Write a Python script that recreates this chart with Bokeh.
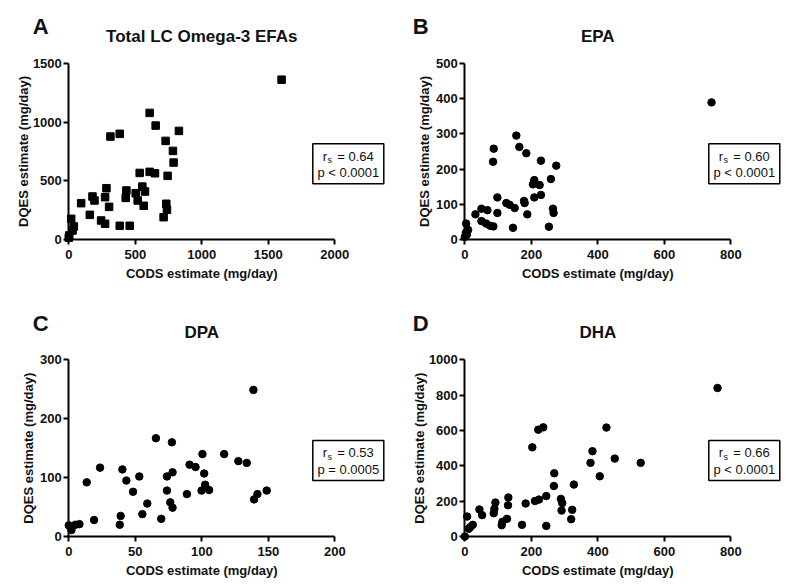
import math
from bokeh.plotting import figure
from bokeh.layouts import column, row
from bokeh.models import Label, BoxAnnotation, FixedTicker, Range1d
from bokeh.embed import file_html
from bokeh.resources import INLINE

# ---------------- data ----------------
# Panel A: Total LC Omega-3 EFAs (squares)
a_cods = [0, 3, 28, 38, 18, 93, 158, 178, 193, 243, 273, 273, 283, 303, 313,
          383, 383, 428, 433, 458, 503, 518, 533, 553, 563, 573, 608, 608, 648,
          653, 713, 733, 738, 743, 728, 783, 788, 828, 1600]
a_dqes = [17, 37, 79, 113, 178, 311, 212, 368, 334, 164, 136, 362, 438, 280, 877,
          900, 119, 356, 419, 119, 396, 334, 568, 452, 289, 410, 577, 1078, 565,
          970, 192, 306, 255, 543, 840, 755, 656, 925, 1360]

# Panel B: EPA
b_cods = [0, 3, 10, 4, 6, 32, 50, 68, 50, 64, 76, 86, 98, 98, 87, 85, 125, 135,
          150, 145, 155, 164, 185, 178, 180, 188, 205, 209, 225, 209, 229, 229,
          259, 265, 267, 253, 275, 742]
b_dqes = [8, 20, 28, 46, 14, 72, 88, 84, 53, 46, 40, 38, 120, 76, 258, 221, 104, 99,
          90, 34, 295, 263, 245, 110, 104, 72, 157, 169, 155, 120, 127, 224,
          172, 88, 76, 37, 210, 389]

# Panel C: DPA
c_cods = [0, 2, 5, 8, 13.5, 19, 23.5, 38.3, 39, 40.3, 43.3, 48.3, 53, 55.3, 59,
          65.5, 69.5, 73.8, 73.8, 76.3, 78, 78, 77.5, 88.8, 90.8, 95.3, 100.5,
          99.8, 101.8, 102.5, 105.5, 116.8, 127.5, 133.8, 138.8, 139.3, 141.8, 148.8]
c_dqes = [19, 11, 20, 21, 92, 28, 117, 20, 35, 114, 95, 76, 102, 38, 56, 167, 30,
          102, 78, 58, 49, 109, 160, 72, 122, 118, 140, 78, 107, 88, 79, 140, 128,
          125, 249, 63, 72, 78]

# Panel D: DHA
d_cods = [0, 7, 12, 16, 24, 44, 52, 87, 89, 92, 111, 113, 127, 130, 131, 172, 183,
          203, 211, 221, 223, 236, 245, 245, 268, 269, 289, 293, 291, 320, 323,
          328, 378, 384, 406, 426, 451, 529, 760]
d_dqes = [0, 113, 44, 53, 66, 153, 121, 132, 157, 192, 64, 83, 100, 177, 221, 66,
          187, 505, 201, 605, 209, 618, 229, 60, 286, 358, 213, 189, 147, 98, 151,
          294, 417, 483, 341, 617, 441, 417, 841]

letters = ["A", "B", "C", "D"]
titles = ["Total LC Omega-3 EFAs", "EPA", "DPA", "DHA"]
rs_values = ["0.64", "0.60", "0.53", "0.66"]
p_values = ["p < 0.0001", "p < 0.0001", "p = 0.0005", "p < 0.0001"]
x_label = "CODS estimate (mg/day)"
y_label = "DQES estimate (mg/day)"

FONT = "Liberation Sans"
INK = "#111111"
AXW, AXH = 266.0, 176.6        # drawn axis lengths in px


def make_panel(letter, title, xs, ys, x_max, x_step, y_max, y_step, marker, rs, pv,
               fig_left, fig_top, fig_w, fig_h, ox, oy, ytitle_dx, letter_dx):
    sx = AXW / x_max
    sy = AXH / y_max

    def X(px):   # page px -> data x
        return (px - ox) / sx

    def Y(py):   # page px -> data y
        return (oy - py) / sy

    p = figure(frame_width=fig_w, frame_height=fig_h,
               x_range=Range1d(X(fig_left), X(fig_left + fig_w)),
               y_range=Range1d(Y(fig_top + fig_h), Y(fig_top)),
               min_border=0, min_border_left=0, min_border_right=0,
               min_border_top=0, min_border_bottom=0,
               output_backend="svg", toolbar_location=None, tools="")
    p.outline_line_color = None
    p.grid.visible = False
    p.background_fill_color = "white"
    p.border_fill_color = "white"

    p.scatter(xs, ys, marker=marker, size=7.5, fill_color="black", line_color="black")

    for ax in (p.xaxis[0], p.yaxis[0]):
        ax.fixed_location = 0
        ax.axis_line_width = 2
        ax.axis_line_color = "black"
        ax.major_tick_line_width = 2
        ax.major_tick_line_color = "black"
        ax.major_tick_in = 0
        ax.major_tick_out = 5
        ax.minor_tick_line_color = None
        ax.major_label_text_font = FONT
        ax.major_label_text_font_style = "bold"
        ax.major_label_text_font_size = "13px"
        ax.major_label_text_color = INK
    p.xaxis.major_label_standoff = 5
    p.yaxis.major_label_standoff = 2
    p.xaxis.bounds = (0, x_max)
    p.yaxis.bounds = (0, y_max)
    p.xaxis.ticker = FixedTicker(ticks=list(range(0, x_max + 1, x_step)))
    p.yaxis.ticker = FixedTicker(ticks=list(range(0, y_max + 1, y_step)))

    top = oy - AXH

    def lab(px, py, text, size="13px", style="normal", align="left", angle=0.0):
        # py is the vertical centre of the text
        p.add_layout(Label(x=X(px), y=Y(py), text=text, text_font=FONT,
                           text_font_size=size, text_font_style=style,
                           text_align=align, text_baseline="middle",
                           angle=angle, text_color=INK))

    # axis titles
    lab(ox + AXW / 2, oy + 33.5, x_label, style="bold", align="center")
    lab(ox - ytitle_dx, oy - AXH / 2, y_label, style="bold", align="center",
        angle=math.pi / 2)

    # panel letter and title
    lab(ox - letter_dx, top - 36.5, letter, size="22px", style="bold")
    lab(ox + AXW / 2, top - 27, title, size="17px", style="bold", align="center")

    # statistics box
    bl, bt = ox + 244, top + 80.5
    p.add_layout(BoxAnnotation(left=X(bl), right=X(bl + 71), top=Y(bt), bottom=Y(bt + 40),
                               fill_color="white", fill_alpha=1.0,
                               line_color="black", line_width=1.5, line_alpha=1.0))
    x0 = bl + 10
    lab(x0, bt + 12.5, "r")
    lab(x0 + 4.6, bt + 16.2, "s", size="9px")
    lab(x0 + 14.5, bt + 12.5, "= " + rs)
    lab(bl + 35.5, bt + 29, pv, align="center")
    return p


W_L, W_R, H_T, H_B = 396, 394, 297, 288
pA = make_panel(letters[0], titles[0], a_cods, a_dqes, 2000, 500, 1500, 500, "square",
                rs_values[0], p_values[0], 0, 0, W_L, H_T, 68.3, 239.3, 45.5, 36)
pB = make_panel(letters[1], titles[1], b_cods, b_dqes, 800, 200, 500, 100, "circle",
                rs_values[1], p_values[1], W_L, 0, W_R, H_T, 464.3, 239.3, 40.5, 52)
pC = make_panel(letters[2], titles[2], c_cods, c_dqes, 200, 50, 300, 100, "circle",
                rs_values[2], p_values[2], 0, H_T, W_L, H_B, 68.3, 536.0, 40.5, 36)
pD = make_panel(letters[3], titles[3], d_cods, d_dqes, 800, 200, 1000, 200, "circle",
                rs_values[3], p_values[3], W_L, H_T, W_R, H_B, 464.3, 536.0, 45.5, 52)

layout = column(row(pA, pB), row(pC, pD))
open("out.html", "w").write(file_html(layout, INLINE))
